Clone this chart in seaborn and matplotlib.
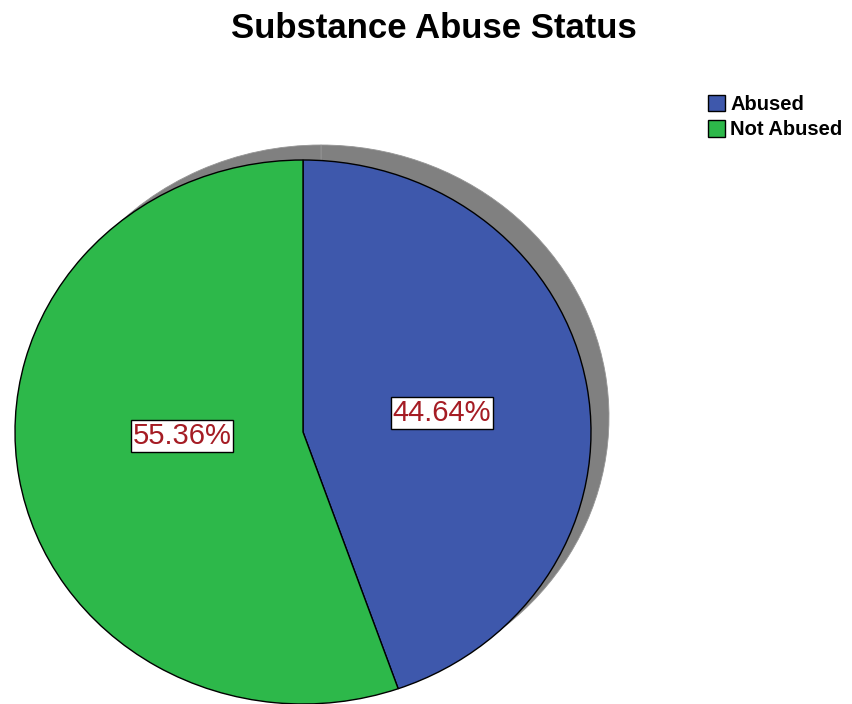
import matplotlib
matplotlib.use("Agg")
import matplotlib.pyplot as plt
from matplotlib.patches import Patch
import seaborn as sns

categories = ["Abused", "Not Abused"]
percentages = [44.64, 55.36]
colors = ["#3e58ac", "#2db84a"]
title = "Substance Abuse Status"

sns.set_theme(style="white")
plt.rcParams['font.family'] = ['Liberation Sans', 'DejaVu Sans']

fig = plt.figure(figsize=(8.52, 7.04), dpi=100)
ax = fig.add_axes([0, 0, 1, 1])

# pixel mapping: center (303,432), rx=288, ry=272
xlim = ((0 - 303) / 288, (852 - 303) / 288)
ylim = ((432 - 704) / 272, 432 / 272)

# shadow
sh_w, _ = ax.pie(percentages, colors=["#808080", "#808080"], startangle=90,
                 counterclock=False, center=(18 / 288, 15 / 272), radius=1,
                 wedgeprops=dict(edgecolor="#959595", linewidth=0.6))
for w in sh_w:
    w.set_zorder(1)
    w.set_clip_on(False)

wedges, texts, autotexts = ax.pie(
    percentages, colors=colors, startangle=90, counterclock=False,
    radius=1, autopct=lambda p: f"{p:.2f}%", pctdistance=0.46,
    wedgeprops=dict(edgecolor="black", linewidth=1.0),
    textprops=dict(fontsize=21, color="#a51c24"))
for w in wedges:
    w.set_zorder(2)
    w.set_clip_on(False)
label_pos = [(0.483, 0.07), (-0.42, -0.015)]
for t, p in zip(autotexts, label_pos):
    t.set_position(p)
    t.set_zorder(5)
    t.set_bbox(dict(facecolor="white", edgecolor="black", linewidth=1.0, pad=1.2))
ax.set_xlim(*xlim)
ax.set_ylim(*ylim)
ax.set_aspect('auto')
ax.axis('off')

fig.text(434 / 852, 1 - 28 / 704, title, ha="center", va="center",
         fontsize=25, fontweight="bold", color="black")

handles = [Patch(facecolor=c, edgecolor="black", linewidth=1.0, label=l)
           for c, l in zip(colors, categories)]
leg = fig.legend(handles=handles, loc="upper left",
                 bbox_to_anchor=(708 / 852, 1 - 95 / 704), frameon=False,
                 prop=dict(weight="bold", size=14.5), labelcolor="black",
                 handlelength=0.85, handleheight=0.85, handletextpad=0.25,
                 labelspacing=0.32, borderaxespad=0, borderpad=0)

fig.savefig("out.png", dpi=100)
